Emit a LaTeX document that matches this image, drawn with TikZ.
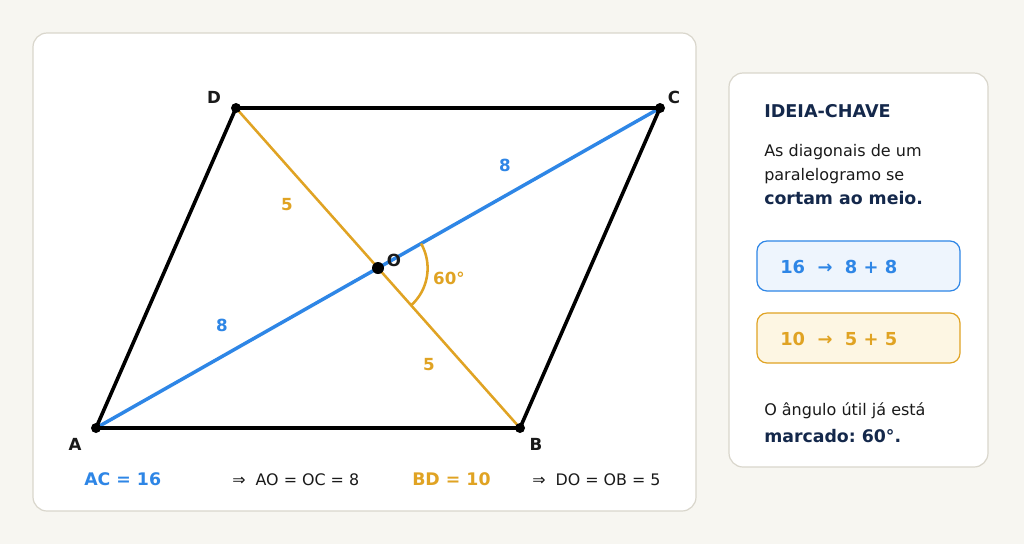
\documentclass[tikz,border=0pt]{standalone}
\usepackage{fontspec}
\setmainfont{DejaVu Sans}
\usetikzlibrary{calc}
\frenchspacing
\definecolor{bg}{HTML}{F7F6F1}
\definecolor{panelborder}{HTML}{D9D6CC}
\definecolor{acblue}{HTML}{2E86E6}
\definecolor{bdorange}{HTML}{E0A323}
\definecolor{navy}{HTML}{14284B}
\definecolor{txt}{HTML}{1A1A1A}
\definecolor{bluefill}{HTML}{EEF5FD}
\definecolor{orangefill}{HTML}{FDF6E3}
\tikzset{
  panel/.style={draw=panelborder, fill=white, line width=0.9pt, rounded corners=10.5pt},
  side/.style={line width=2.7pt, draw=black},
  vdot/.style={circle, fill=black, inner sep=0pt, minimum size=7.5pt},
  vlabel/.style={font=\bfseries\fontsize{12.5}{14}\selectfont, text=txt},
  blab/.style={font=\bfseries\fontsize{12.5}{14}\selectfont, text=acblue},
  olab/.style={font=\bfseries\fontsize{12.5}{14}\selectfont, text=bdorange},
  lefttext/.style={anchor=base west, inner sep=0pt},
  body/.style={lefttext, font=\fontsize{12}{14}\selectfont, text=txt},
  bodyb/.style={lefttext, font=\bfseries\fontsize{13}{15}\selectfont, text=navy},
  keybox/.style={rounded corners=7.5pt, line width=0.9pt},
}
\begin{document}
\begin{tikzpicture}[x=0.75pt, y=-0.75pt]
\useasboundingbox (0,0) rectangle (1024,544);
\fill[bg] (0,0) rectangle (1024,544);
% panels
\draw[panel] (33,33) rectangle (696,511);
\draw[panel] (729,73) rectangle (988,467);
% points
\coordinate (A) at (96,428);
\coordinate (B) at (520,428);
\coordinate (C) at (660,108);
\coordinate (D) at (236,108);
\coordinate (O) at (378,268);
% diagonals
\draw[bdorange, line width=1.9pt] (D) -- (B);
\draw[acblue, line width=2.6pt] (A) -- (C);
% parallelogram
\draw[side, line join=round] (A) -- (B) -- (C) -- (D) -- cycle;
% angle arc
\draw[bdorange, line width=1.9pt] ($(O)!50/327.2!(C)$) arc[start angle=29.6, end angle=-48.4, radius=37.5pt];
% dots
\node[vdot] (dA) at (A) {};
\node[vdot] (dB) at (B) {};
\node[vdot] (dC) at (C) {};
\node[vdot] (dD) at (D) {};
\node[vdot, minimum size=9pt] (dO) at (O) {};
% vertex labels
\node[vlabel] (lD) at (214,97) {D};
\node[vlabel] (lC) at (674,97) {C};
\node[vlabel] (lA) at (75,444) {A};
\node[vlabel] (lB) at (536,444) {B};
\node[vlabel] (lO) at (394,260) {O};
% segment labels
\node[blab] (l8a) at (505,165) {8};
\node[blab] (l8b) at (222,325) {8};
\node[olab] (l5a) at (287,205) {5};
\node[olab] (l5b) at (429,365) {5};
\node[olab] (l60) at (449,278) {60°};
% bottom row
\node[lefttext, font=\bfseries\fontsize{13}{15}\selectfont, text=acblue] (ac) at (84,485) {AC = 16};
\node[lefttext, font=\fontsize{11.9}{14}\selectfont, text=txt] (ao) at (232,485) {⇒\ \ AO = OC = 8};
\node[lefttext, font=\bfseries\fontsize{13}{15}\selectfont, text=bdorange] (bd) at (412,485) {BD = 10};
\node[lefttext, font=\fontsize{11.9}{14}\selectfont, text=txt] (do) at (532,485) {⇒\ \ DO = OB = 5};
% right panel
\node[lefttext, font=\bfseries\fontsize{13.2}{15}\selectfont, text=navy] (title) at (764,117) {IDEIA-CHAVE};
\node[body] (t1) at (764,156) {As diagonais de um};
\node[body] (t2) at (764,180) {paralelogramo se};
\node[bodyb] (t3) at (764,204) {cortam ao meio.};
\draw[keybox, draw=acblue, fill=bluefill] (757,241) rectangle (960,291);
\node[lefttext, font=\bfseries\fontsize{13.4}{15}\selectfont, text=acblue] (k1) at (780,273) {16\ \ →\ \ 8 + 8};
\draw[keybox, draw=bdorange, fill=orangefill] (757,313) rectangle (960,363);
\node[lefttext, font=\bfseries\fontsize{13.4}{15}\selectfont, text=bdorange] (k2) at (780,345) {10\ \ →\ \ 5 + 5};
\node[body] (t4) at (764,415) {O ângulo útil já está};
\node[bodyb] (t5) at (764,442) {marcado: 60°.};
\end{tikzpicture}
\end{document}
